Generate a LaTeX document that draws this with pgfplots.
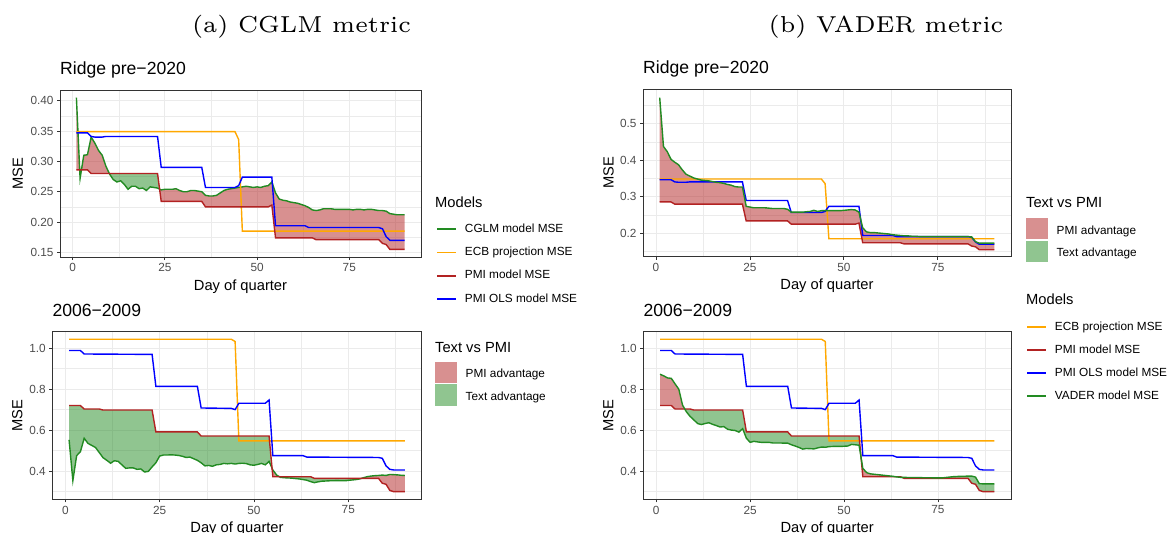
\documentclass[border=0pt]{standalone}
\usepackage{fontspec}
\usepackage{graphicx}
\usepackage{pgfplots}
\pgfplotsset{compat=1.18}
\usepackage{pgfplotstable}
\usepgfplotslibrary{fillbetween}
\newfontfamily\arial{Liberation Sans}
\definecolor{grey20}{RGB}{51,51,51}
\definecolor{grey30}{RGB}{77,77,77}
\definecolor{grey92}{RGB}{235,235,235}
\definecolor{cglm}{RGB}{34,139,34}
\definecolor{ecb}{RGB}{255,168,0}
\definecolor{pmi}{RGB}{178,34,34}
\definecolor{ols}{RGB}{0,0,255}
\definecolor{pmiadv}{RGB}{216,144,144}
\definecolor{textadv}{RGB}{144,197,144}

% ---------- shared series, Ridge pre-2020 ----------
\pgfplotstableread{
day mse
1 0.286
4 0.286
5 0.280
23 0.280
24 0.234
35 0.234
36 0.225
53 0.225
54 0.228
55 0.174
65 0.174
66 0.171
83 0.171
84 0.165
85 0.163
86 0.155
90 0.155
}\pmiA
\pgfplotstableread{
day mse
1 0.347
4 0.347
5 0.341
6 0.340
8 0.340
9 0.341
23 0.341
24 0.290
35 0.290
36 0.257
44 0.257
45 0.260
46 0.274
54 0.274
55 0.194
63 0.194
64 0.191
83 0.191
84 0.189
85 0.176
86 0.170
90 0.170
}\olsA
\pgfplotstableread{
day mse
1 0.349
44 0.349
45 0.336
46 0.185
90 0.185
}\ecbA
% ---------- shared series, 2006-2009 ----------
\pgfplotstableread{
day mse
1 0.720
4 0.720
5 0.703
9 0.703
10 0.698
23 0.698
24 0.591
35 0.591
36 0.571
54 0.571
55 0.372
65 0.372
66 0.364
83 0.364
84 0.340
85 0.335
86 0.305
87 0.299
90 0.299
}\pmiB
\pgfplotstableread{
day mse
1 0.989
4 0.989
5 0.972
23 0.970
24 0.814
35 0.814
36 0.708
44 0.706
45 0.700
46 0.731
53 0.731
54 0.747
55 0.475
63 0.475
64 0.468
83 0.466
84 0.462
85 0.425
86 0.408
87 0.405
90 0.405
}\olsB
\pgfplotstableread{
day mse
1 1.044
44 1.044
45 1.033
46 0.547
90 0.547
}\ecbB
% ---------- CGLM, Ridge pre-2020 ----------
\pgfplotstableread{
day mse
1 0.405
2 0.272
3 0.310
4 0.311
5 0.340
6 0.330
7 0.318
8 0.310
9 0.292
10 0.279
11 0.270
12 0.266
13 0.268
14 0.262
15 0.254
16 0.259
17 0.259
18 0.255
19 0.256
20 0.252
21 0.258
22 0.257
23 0.256
24 0.253
25 0.254
26 0.254
27 0.254
28 0.255
29 0.252
30 0.250
31 0.250
32 0.252
33 0.252
34 0.251
35 0.250
36 0.244
37 0.243
38 0.243
39 0.244
40 0.248
41 0.252
42 0.254
43 0.255
44 0.256
45 0.257
46 0.258
47 0.259
48 0.258
49 0.257
50 0.258
51 0.257
52 0.259
53 0.260
54 0.266
55 0.248
56 0.238
57 0.236
58 0.235
59 0.233
60 0.232
61 0.231
62 0.229
63 0.227
64 0.224
65 0.220
66 0.219
67 0.220
68 0.222
69 0.222
70 0.222
71 0.221
72 0.221
73 0.221
74 0.221
75 0.221
76 0.220
77 0.221
78 0.221
79 0.220
80 0.221
81 0.221
82 0.220
83 0.219
84 0.219
85 0.218
86 0.214
87 0.213
88 0.212
89 0.212
90 0.212
}\cglmA
% ---------- CGLM, 2006-2009 ----------
\pgfplotstableread{
day mse
1 0.552
2 0.353
3 0.475
4 0.494
5 0.560
6 0.535
7 0.525
8 0.515
9 0.490
10 0.465
11 0.452
12 0.438
13 0.450
14 0.447
15 0.430
16 0.413
17 0.415
18 0.415
19 0.408
20 0.410
21 0.395
22 0.398
23 0.420
24 0.440
25 0.473
26 0.478
27 0.478
28 0.479
29 0.478
30 0.476
31 0.472
32 0.466
33 0.468
34 0.460
35 0.452
36 0.440
37 0.425
38 0.427
39 0.423
40 0.430
41 0.432
42 0.437
43 0.435
44 0.437
45 0.434
46 0.437
47 0.438
48 0.436
49 0.430
50 0.428
51 0.432
52 0.437
53 0.430
54 0.447
55 0.405
56 0.380
57 0.369
58 0.367
59 0.366
60 0.365
61 0.363
62 0.361
63 0.358
64 0.355
65 0.348
66 0.343
67 0.347
68 0.350
69 0.351
70 0.352
71 0.352
72 0.353
73 0.352
74 0.352
75 0.354
76 0.356
77 0.358
78 0.361
79 0.367
80 0.372
81 0.375
82 0.377
83 0.378
84 0.380
85 0.378
86 0.383
87 0.382
88 0.381
89 0.379
90 0.378
}\cglmB
% ---------- VADER, Ridge pre-2020 ----------
\pgfplotstableread{
day mse
1 0.572
2 0.438
3 0.424
4 0.403
5 0.395
6 0.388
7 0.374
8 0.362
9 0.357
10 0.352
11 0.349
12 0.346
13 0.345
14 0.344
15 0.342
16 0.340
17 0.339
18 0.337
19 0.334
20 0.332
21 0.328
22 0.327
23 0.327
24 0.274
25 0.272
26 0.270
27 0.270
28 0.270
29 0.270
30 0.269
31 0.268
32 0.268
33 0.268
34 0.268
35 0.266
36 0.258
37 0.258
38 0.258
39 0.258
40 0.259
41 0.260
42 0.263
43 0.260
44 0.262
45 0.262
46 0.262
47 0.262
48 0.262
49 0.262
50 0.263
51 0.264
52 0.265
53 0.264
54 0.258
55 0.215
56 0.204
57 0.202
58 0.202
59 0.201
60 0.200
61 0.199
62 0.198
63 0.196
64 0.195
65 0.194
66 0.193
67 0.193
68 0.192
69 0.192
70 0.191
75 0.191
80 0.191
83 0.191
84 0.190
85 0.177
86 0.173
90 0.173
}\vaderA
% ---------- VADER, 2006-2009 ----------
\pgfplotstableread{
day mse
1 0.873
2 0.865
3 0.855
4 0.853
5 0.826
6 0.800
7 0.722
8 0.690
9 0.667
10 0.650
11 0.632
12 0.627
13 0.632
14 0.636
15 0.628
16 0.622
17 0.615
18 0.617
19 0.604
20 0.600
21 0.598
22 0.590
23 0.607
24 0.560
25 0.540
26 0.545
27 0.542
28 0.540
29 0.540
30 0.540
31 0.537
32 0.537
33 0.537
34 0.536
35 0.536
36 0.528
37 0.522
38 0.515
39 0.507
40 0.510
41 0.509
42 0.508
43 0.513
44 0.517
45 0.516
46 0.519
47 0.520
48 0.520
49 0.520
50 0.521
51 0.522
52 0.530
53 0.528
54 0.526
55 0.413
56 0.392
57 0.386
58 0.384
59 0.382
60 0.380
61 0.378
62 0.376
63 0.374
64 0.371
65 0.369
66 0.369
67 0.368
68 0.368
69 0.368
70 0.368
71 0.367
72 0.367
73 0.367
74 0.366
75 0.366
76 0.366
77 0.368
78 0.370
79 0.372
80 0.373
81 0.374
82 0.374
83 0.375
84 0.375
85 0.370
86 0.338
87 0.337
90 0.337
}\vaderB

\pgfplotsset{
  linekeyimg/.style={legend image code/.code={\fill[##1] (0pt,-0.9pt) rectangle (19pt,0.9pt);}},
  areakeyimg/.style={legend image code/.code={\fill[##1] (0pt,-8.3pt) rectangle (21.7pt,12.9pt);}},
}
\newcommand\linekey[1]{\addlegendimage{fill=#1, draw=none, linekeyimg}}
\newcommand\areakey[1]{\addlegendimage{fill=#1, draw=none, areakeyimg}}
\newcommand\captext[1]{\scalebox{3.85}{\fontsize{6}{7}\selectfont #1}}

\pgfplotsset{
  ggaxis/.style={
    scale only axis, set layers,
    xmin=-3.45, xmax=94.45,
    xtick={0,25,50,75}, minor xtick={12.5,37.5,62.5,87.5},
    grid=both,
    major grid style={draw=grey92, line width=0.9pt},
    minor grid style={draw=grey92, line width=0.5pt},
    axis line style={draw=grey20, line width=0.9pt},
    major tick style={draw=grey20, line width=0.9pt},
    minor tick length=0pt,
    tick align=outside, major tick length=3pt, tick pos=left,
    tick label style={font=\arial\fontsize{11.8}{12}\selectfont, text=grey30},
    /pgf/number format/assume math mode=true,
    label style={font=\arial\fontsize{14.7}{16}\selectfont, text=black},
    title style={font=\arial\fontsize{17.6}{19}\selectfont, at={(axis description cs:0,1)}, anchor=base west, inner sep=0pt},
    xlabel={Day of quarter}, ylabel={MSE},
    xlabel style={at={(axis description cs:0.5,0)}, anchor=base, yshift=-33pt, inner sep=0pt},
    ylabel style={anchor=base, inner sep=0pt},
    legend cell align=left,
    legend style={draw=none, fill=none, inner sep=0pt, outer sep=0pt, anchor=north west,
      font=\arial\fontsize{11.8}{12}\selectfont,
      nodes={inner sep=0pt, text height=8.5pt, text depth=2.5pt},
      /tikz/every odd column/.append style={column sep=9pt}},
  },
  dline/.style={line width=1.4pt},
}

\begin{document}
\begin{tikzpicture}
\node[anchor=base, inner sep=0pt] at (301.5pt,-32.4pt) {\captext{(a) CGLM metric}};
\node[anchor=base, inner sep=0pt] at (886pt,-32.4pt) {\captext{(b) VADER metric}};

% ===== Panel 1: CGLM, Ridge pre-2020 =====
\begin{axis}[ggaxis, at={(60pt,-90pt)}, anchor=north west, width=361pt, height=167pt,
  ymin=0.1425, ymax=0.4175,
  ytick={0.15,0.20,0.25,0.30,0.35,0.40}, minor ytick={0.175,0.225,0.275,0.325,0.375},
  yticklabel style={/pgf/number format/.cd, fixed, fixed zerofill, precision=2},
  title={Ridge pre−2020}, title style={yshift=10pt},
  ylabel style={at={(axis description cs:-0.1030,0.5)}},
  legend style={at={(axis description cs:1.0443,0.2000)}, row sep=12.4pt}]
\addplot[name path=g1, cglm, dline, forget plot] table {\cglmA};
\addplot[ecb, dline, forget plot] table {\ecbA};
\addplot[name path=r1, pmi, dline, forget plot] table {\pmiA};
\addplot[ols, dline, forget plot] table {\olsA};
\addplot[draw=none, forget plot] fill between[of=g1 and r1, split,
  every even segment/.style={fill=pmi, fill opacity=0.5},
  every odd segment/.style={fill=cglm, fill opacity=0.5}];
\linekey{cglm}\addlegendentry{CGLM model MSE}
\linekey{ecb}\addlegendentry{ECB projection MSE}
\linekey{pmi}\addlegendentry{PMI model MSE}
\linekey{ols}\addlegendentry{PMI OLS model MSE}
\end{axis}

% ===== Panel 3: CGLM, 2006-2009 =====
\begin{axis}[ggaxis, at={(52.3pt,-331.7pt)}, anchor=north west, width=369.4pt, height=167.6pt,
  ymin=0.2615, ymax=1.081,
  ytick={0.4,0.6,0.8,1.0}, minor ytick={0.3,0.5,0.7,0.9},
  yticklabel style={/pgf/number format/.cd, fixed, fixed zerofill, precision=1},
  title={2006−2009}, title style={yshift=9.5pt},
  ylabel style={at={(axis description cs:-0.0807,0.5)}},
  legend style={at={(axis description cs:1.036,0.8198)}, row sep=1.3pt}]
\addplot[name path=g3, cglm, dline, forget plot] table {\cglmB};
\addplot[ecb, dline, forget plot] table {\ecbB};
\addplot[name path=r3, pmi, dline, forget plot] table {\pmiB};
\addplot[ols, dline, forget plot] table {\olsB};
\addplot[draw=none, forget plot] fill between[of=g3 and r3, split,
  every even segment/.style={fill=cglm, fill opacity=0.5},
  every odd segment/.style={fill=pmi, fill opacity=0.5}];
\areakey{pmiadv}\addlegendentry{PMI advantage}
\areakey{textadv}\addlegendentry{Text advantage}
\end{axis}

% ===== Panel 2: VADER, Ridge pre-2020 =====
\begin{axis}[ggaxis, at={(643pt,-89.3pt)}, anchor=north west, width=368pt, height=167.4pt,
  ymin=0.1358, ymax=0.595,
  ytick={0.2,0.3,0.4,0.5}, minor ytick={0.15,0.25,0.35,0.45,0.55},
  yticklabel style={/pgf/number format/.cd, fixed, fixed zerofill, precision=1},
  title={Ridge pre−2020}, title style={yshift=9.7pt},
  ylabel style={at={(axis description cs:-0.0799,0.5)}},
  legend style={at={(axis description cs:1.0408,0.230)}, row sep=1.3pt}]
\addplot[ecb, dline, forget plot] table {\ecbA};
\addplot[name path=r2, pmi, dline, forget plot] table {\pmiA};
\addplot[ols, dline, forget plot] table {\olsA};
\addplot[name path=g2, cglm, dline, forget plot] table {\vaderA};
\addplot[draw=none, fill=pmi, fill opacity=0.5, forget plot] fill between[of=g2 and r2];
\areakey{pmiadv}\addlegendentry{PMI advantage}
\areakey{textadv}\addlegendentry{Text advantage}
\end{axis}

% ===== Panel 4: VADER, 2006-2009 =====
\begin{axis}[ggaxis, at={(643.3pt,-331.7pt)}, anchor=north west, width=367.7pt, height=167.6pt,
  ymin=0.2615, ymax=1.081,
  ytick={0.4,0.6,0.8,1.0}, minor ytick={0.3,0.5,0.7,0.9},
  yticklabel style={/pgf/number format/.cd, fixed, fixed zerofill, precision=1},
  title={2006−2009}, title style={yshift=9.5pt},
  ylabel style={at={(axis description cs:-0.0815,0.5)}},
  legend style={at={(axis description cs:1.0435,1.0597)}, row sep=12pt}]
\addplot[ecb, dline, forget plot] table {\ecbB};
\addplot[name path=r4, pmi, dline, forget plot] table {\pmiB};
\addplot[ols, dline, forget plot] table {\olsB};
\addplot[name path=g4, cglm, dline, forget plot] table {\vaderB};
\addplot[draw=none, forget plot] fill between[of=g4 and r4, split,
  every even segment/.style={fill=pmi, fill opacity=0.5},
  every odd segment/.style={fill=cglm, fill opacity=0.5}];
\linekey{ecb}\addlegendentry{ECB projection MSE}
\linekey{pmi}\addlegendentry{PMI model MSE}
\linekey{ols}\addlegendentry{PMI OLS model MSE}
\linekey{cglm}\addlegendentry{VADER model MSE}
\end{axis}

% legend titles
\node[anchor=base west, inner sep=0pt, font=\arial\fontsize{14.7}{16}\selectfont] at (435pt,-207.3pt) {Models};
\node[anchor=base west, inner sep=0pt, font=\arial\fontsize{14.7}{16}\selectfont] at (435pt,-352pt) {Text vs PMI};
\node[anchor=base west, inner sep=0pt, font=\arial\fontsize{14.7}{16}\selectfont] at (1026pt,-207.3pt) {Text vs PMI};
\node[anchor=base west, inner sep=0pt, font=\arial\fontsize{14.7}{16}\selectfont] at (1026pt,-304.3pt) {Models};

\pgfresetboundingbox
\useasboundingbox (0pt,0pt) rectangle (1171pt,-533pt);
\end{tikzpicture}
\end{document}
